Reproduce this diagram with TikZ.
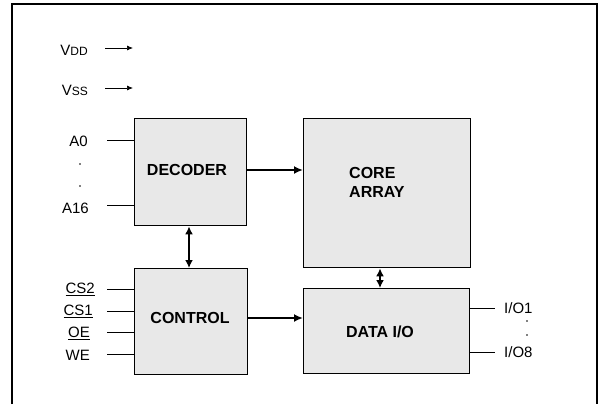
\documentclass[tikz,border=0pt]{standalone}
\usepackage{fontspec}
\setmainfont{Liberation Sans}
\usetikzlibrary{arrows.meta}
\begin{document}
\begin{tikzpicture}[x=1pt,y=-1pt,
  blk/.style={draw=black,line width=1.4pt,fill=black!9,inner sep=0pt},
  btxt/.style={font=\fontsize{16}{19}\selectfont\bfseries,inner sep=0pt},
  lbl/.style={font=\fontsize{15}{17}\selectfont,inner sep=0pt},
  pin/.style={line width=0.6pt},
  thick arrow/.style={line width=1.8pt,-{Latex[length=9pt,width=8pt]}},
  both arrow/.style={line width=1.8pt,{Latex[length=8pt,width=8pt]}-{Latex[length=8pt,width=8pt]}},
  thin arrow/.style={line width=0.7pt,-{Latex[length=6pt,width=5pt]}}]
\useasboundingbox (0,0) rectangle (599,404);
% frame
\draw[line width=1.6pt] (12,404) -- (12,4) -- (597,4) -- (597,404);
% blocks
\node[blk,minimum width=112pt,minimum height=107pt,anchor=north west] (dec) at (134,118) {};
\node[btxt] (dect) at (187,170) {DECODER};
\node[blk,minimum width=167pt,minimum height=149pt,anchor=north west] (core) at (303,118) {};
\node[btxt,align=left,anchor=west] (coret) at (349,182) {CORE\\ARRAY};
\node[blk,minimum width=113pt,minimum height=106pt,anchor=north west] (ctl) at (134,268) {};
\node[btxt] (ctlt) at (190,318) {CONTROL};
\node[blk,minimum width=166pt,minimum height=85pt,anchor=north west] (dio) at (303,288) {};
\node[btxt] (diot) at (380,332) {DATA I/O};
% supply
\node[lbl,anchor=east] (vdd) at (88,50) {V{\fontsize{12}{14}\selectfont DD}};
\node[lbl,anchor=east] (vss) at (88,90) {V{\fontsize{12}{14}\selectfont SS}};
\coordinate (vdda) at (105,48); \coordinate (vddb) at (133,48);
\coordinate (vssa) at (105,88); \coordinate (vssb) at (133,88);
\draw[thin arrow] (vdda) -- (vddb);
\draw[thin arrow] (vssa) -- (vssb);
% address
\node[lbl,anchor=east] (a0) at (88,141) {A0};
\fill (80,164) circle (0.9pt);
\fill (80,186) circle (0.9pt);
\node[lbl,anchor=east] (a16) at (89,208) {A16};
\coordinate (a0s) at (107,140); \coordinate (a16s) at (107,205);
\draw[pin] (a0s) -- (a0s -| dec.west);
\draw[pin] (a16s) -- (a16s -| dec.west);
% control
\node[lbl,anchor=east] (cs2) at (95,289) {\underline{CS2}};
\node[lbl,anchor=east] (cs1) at (93,311) {\underline{CS1}};
\node[lbl,anchor=east] (oe) at (90,333) {\underline{OE}};
\node[lbl,anchor=east] (we) at (90,355) {WE};
\foreach \n/\y in {p1/289,p2/311,p3/332,p4/354}{
  \coordinate (\n) at (107,\y);
  \draw[pin] (\n) -- (\n -| ctl.west);
}
% io
\node[lbl,anchor=west] (io1) at (504,308) {I/O1};
\fill (527,321) circle (0.8pt);
\fill (527,335) circle (0.8pt);
\node[lbl,anchor=west] (io8) at (504,352) {I/O8};
\coordinate (io1s) at (495,308); \coordinate (io8s) at (495,352);
\draw[pin] (io1s -| dio.east) -- (io1s);
\draw[pin] (io8s -| dio.east) -- (io8s);
% connectors
\draw[thick arrow] (dec.east |- 0,170) -- (core.west |- 0,170);
\draw[thick arrow] (ctl.east |- 0,318) -- (dio.west |- 0,318);
\draw[both arrow] (dec.south -| 189,0) -- (ctl.north -| 189,0);
\draw[both arrow] (core.south -| 380,0) -- (dio.north -| 380,0);
\end{tikzpicture}
\end{document}
